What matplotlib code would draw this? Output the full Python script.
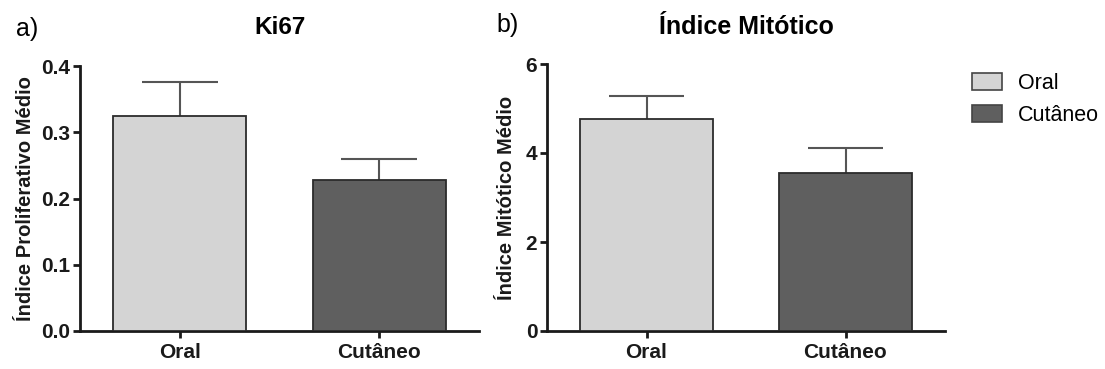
import matplotlib
matplotlib.use("Agg")
import matplotlib.pyplot as plt
from matplotlib.patches import Patch
import numpy as np

plt.rcParams["font.family"] = ["Liberation Sans", "DejaVu Sans"]

# data
groups = ["Oral", "Cutâneo"]
ki67_mean = [0.325, 0.228]
ki67_sem = [0.051, 0.031]
mit_mean = [4.77, 3.55]
mit_sem = [0.52, 0.56]

colors = ["#d4d4d4", "#5f5f5f"]
edge = "#2b2b2b"
err_col = "#555555"

fig = plt.figure(figsize=(11.05, 3.69), dpi=100)
W, H = 1105, 369


def px_axes(left, right, top, bottom):
    return fig.add_axes([left / W, 1 - bottom / H, (right - left) / W, (bottom - top) / H])


ax_a = px_axes(80, 479, 66, 331)
ax_b = px_axes(547, 945, 64, 331)


def bar_panel(ax, means, sems, ylim, yticks, yticklabels, ylabel, label_x):
    x = np.arange(len(groups))
    ax.bar(x, means, width=0.665, color=colors, edgecolor=edge, linewidth=1.3, zorder=3)
    tops = np.array(means) + np.array(sems)
    ax.vlines(x, means, tops, color=err_col, linewidth=1.5, zorder=2)
    ax.hlines(tops, x - 0.19, x + 0.19, color=err_col, linewidth=1.5, zorder=2)
    ax.set_xlim(-0.5, 1.5)
    ax.set_ylim(*ylim)
    ax.set_yticks(yticks)
    ax.set_yticklabels(yticklabels)
    ax.set_xticks(x)
    ax.set_xticklabels(groups)
    for s in ["top", "right"]:
        ax.spines[s].set_visible(False)
    for s in ["left", "bottom"]:
        ax.spines[s].set_linewidth(2)
        ax.spines[s].set_color("#1a1a1a")
    ax.tick_params(axis="both", direction="out", length=5, width=2, color="#1a1a1a",
                   labelsize=15, pad=2)
    ax.tick_params(axis="x", pad=4)
    for lab in ax.get_xticklabels() + ax.get_yticklabels():
        lab.set_fontweight("bold")
        lab.set_color("#1a1a1a")
    ax.set_ylabel(ylabel, fontsize=14.5, fontweight="bold", color="#1a1a1a")
    ax.yaxis.set_label_coords(label_x, 0.5)


bar_panel(ax_a, ki67_mean, ki67_sem, (0, 0.4), [0, 0.1, 0.2, 0.3, 0.4],
          ["0.0", "0.1", "0.2", "0.3", "0.4"], "Índice Proliferativo Médio", -0.112)
bar_panel(ax_b, mit_mean, mit_sem, (0, 6), [0, 2, 4, 6],
          ["0", "2", "4", "6"], "Índice Mitótico Médio", -0.077)

# titles and panel letters
fig.text(280 / W, 1 - 27 / H, "Ki67", ha="center", va="center", fontsize=17.5, fontweight="bold")
fig.text(746 / W, 1 - 27 / H, "Índice Mitótico", ha="center", va="center", fontsize=18,
         fontweight="bold")
fig.text(16 / W, 1 - 29 / H, "a)", ha="left", va="center", fontsize=18)
fig.text(496 / W, 1 - 25 / H, "b)", ha="left", va="center", fontsize=18)

handles = [Patch(facecolor=c, edgecolor="#444444", linewidth=1.2) for c in colors]
fig.legend(handles, groups, loc="upper left", bbox_to_anchor=(972 / W, 1 - 73 / H),
           frameon=False, fontsize=15.5, handlelength=1.4, handleheight=0.8,
           labelspacing=0.5, handletextpad=0.75, borderaxespad=0, borderpad=0)

fig.savefig("out.png", dpi=100)
